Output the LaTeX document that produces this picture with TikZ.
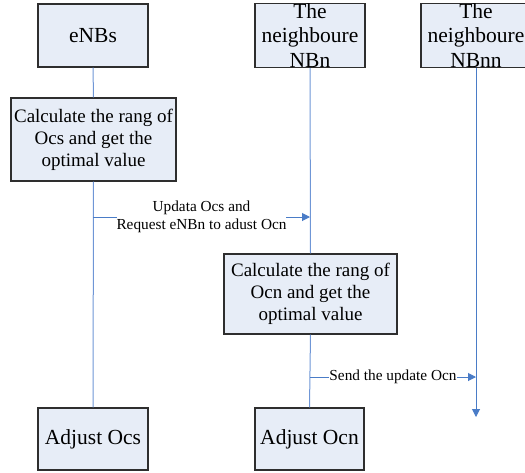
\documentclass[tikz,border=0pt]{standalone}
\usepackage{fontspec}
\setmainfont{Liberation Serif}
\usetikzlibrary{arrows.meta}
\definecolor{boxfill}{HTML}{E7EDF7}
\definecolor{boxline}{HTML}{2E2E2E}
\definecolor{lifeblue}{HTML}{6F96D6}
\definecolor{arrblue}{HTML}{4A7CC7}
\tikzset{
  lanebox/.style={draw=boxline, fill=boxfill, line width=1.1pt, inner sep=0pt, align=center},
  bigtxt/.style={font=\fontsize{21.5}{24.5}\selectfont},
  midtxt/.style={font=\fontsize{19}{22}\selectfont},
  msgtxt/.style={font=\fontsize{15.3}{18}\selectfont, fill=white, inner sep=0pt, align=center},
  life/.style={draw=lifeblue, line width=1pt},
  msg/.style={draw=arrblue, line width=1pt, -{Triangle[length=8pt,width=8pt]}}
}
\begin{document}
\begin{tikzpicture}[x=1pt,y=-1pt]
\useasboundingbox (0,0) rectangle (525,472);
% header boxes
\node[lanebox, bigtxt, minimum width=110pt, minimum height=63pt] (enbs) at (93,35.5) {eNBs};
\node[lanebox, bigtxt, minimum width=110pt, minimum height=63pt] (nbn) at (310,35.5) {The\\neighboure\\NBn};
\node[lanebox, bigtxt, minimum width=110pt, minimum height=63pt] (nbnn) at (476,35.5) {The\\neighboure\\NBnn};
% calculation boxes
\node[lanebox, midtxt, minimum width=165pt, minimum height=83pt] (calc1) at (93.5,139.5) {Calculate the rang of\\Ocs and get the\\optimal value};
\node[lanebox, midtxt, minimum width=173pt, minimum height=80pt] (calc2) at (310.5,294) {Calculate the rang of\\Ocn and get the\\optimal value};
% adjust boxes
\node[lanebox, bigtxt, minimum width=110pt, minimum height=62pt] (adj1) at (93,439) {Adjust Ocs};
\node[lanebox, bigtxt, minimum width=109pt, minimum height=62pt] (adj2) at (309.5,439) {Adjust Ocn};
% lifeline points
\coordinate (m1s) at (93,217);
\coordinate (m1e) at (310,217);
\coordinate (m2s) at (310,377);
\coordinate (m2e) at (476,377);
\coordinate (nnend) at (476,417);
% lifelines
\draw[life] (enbs.south) -- (calc1.north);
\draw[life] (calc1.south) -- (adj1.north);
\draw[life] (nbn.south) -- (calc2.north);
\draw[life] (calc2.south) -- (adj2.north);
\draw[msg] (nbnn.south) -- (nnend);
% messages
\draw[msg] (m1s) -- node[msgtxt] (l1) {Updata Ocs and\\Request eNBn to adust Ocn} (m1e);
\draw[msg] (m2s) -- node[msgtxt] (l2) {Send the update Ocn} (m2e);
\end{tikzpicture}
\end{document}
